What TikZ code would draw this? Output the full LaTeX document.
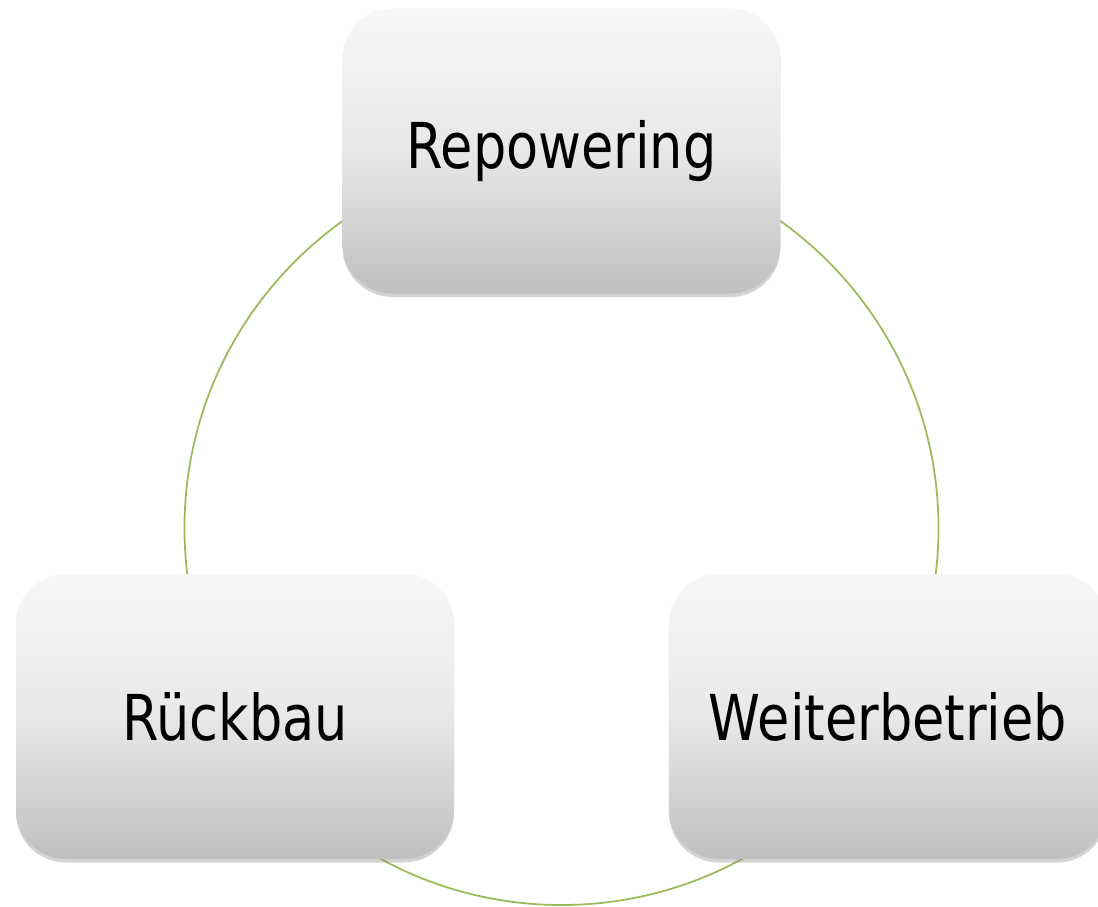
\documentclass[tikz,border=0pt]{standalone}
\usepackage{fontspec}
\newfontfamily\stagefont[FakeStretch=0.83]{DejaVu Sans}
\usetikzlibrary{shadows,positioning}
\definecolor{cyclegreen}{RGB}{155,187,89}

\begin{document}
\begin{tikzpicture}[thick]
	\tikzstyle{stage} = [draw=none,rounded corners=1cm,minimum width=8.76cm,minimum height=5.7cm,inner sep=0pt,
		top color=black!3,bottom color=black!25,middle color=black!9,
		drop shadow={opacity=0.35,shadow xshift=0pt,shadow yshift=-2pt},
		font=\stagefont\fontsize{36}{40}\selectfont]
	\tikzstyle{cycle} = [draw=cyclegreen,line width=1pt]
	\useasboundingbox (-11.23,-7.56) rectangle (10.73,10.56);
	% Cycle
	\node[cycle,circle,minimum size=15.08cm,inner sep=0pt] (ring) at (0,0) {};
	% Stages
	\node[stage] (repower) at (90:7.54) {Repowering};
	\node[stage] (rueck) at (210:7.54) {Rückbau};
	\node[stage] (weiter) at (330:7.54) {Weiterbetrieb};
\end{tikzpicture}
\end{document}
